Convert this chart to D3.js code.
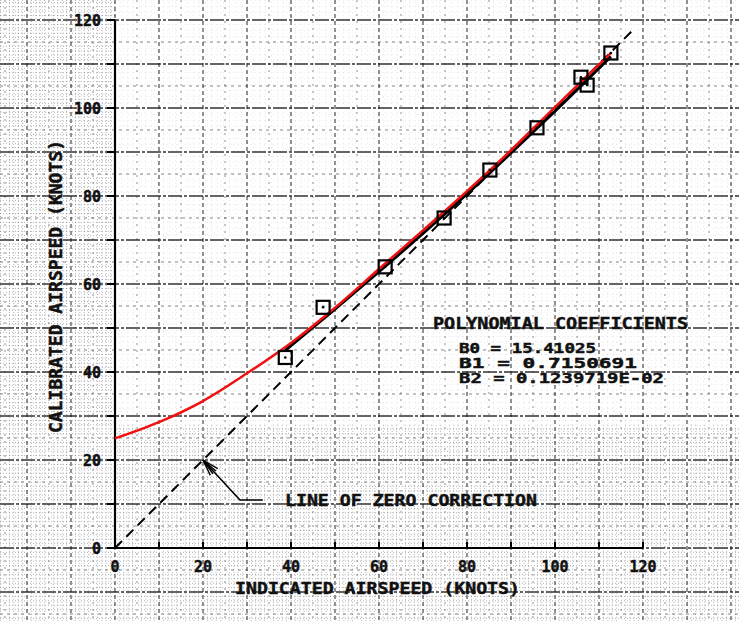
<!DOCTYPE html>
<html><head><meta charset="utf-8">
<script src="https://cdn.jsdelivr.net/npm/d3@7"></script>
<style>
html,body{margin:0;padding:0;background:#fff;}
svg{display:block;}
text{font-family:"DejaVu Sans Mono",monospace;font-weight:bold;fill:#111;stroke:#111;stroke-width:0.45;}
</style></head>
<body>
<script>
// ---- data ----
const xTicks = [0, 20, 40, 60, 80, 100, 120];
const yTicks = [0, 20, 40, 60, 80, 100, 120];
const indicated  = [38.7, 47.3, 61.4, 74.8, 85.2, 95.9, 105.9, 107.3, 112.7];
const calibrated = [43.3, 54.7, 63.9, 75.0, 85.9, 95.5, 107.0, 105.2, 112.5];
const fitX = [38.7, 50, 60, 70, 80, 90, 100, 112.7];
const fitY = [44.9, 54.3, 62.8, 71.5, 80.5, 89.8, 99.3, 111.7];
const redX = [0, 10, 20, 30, 40, 50, 60, 70, 80, 90, 100, 112.7];
const redY = [24.9, 28.6, 33.4, 39.7, 46.6, 54.6, 63.4, 72.2, 81.1, 90.4, 100.2, 112.5];
const zeroX = [0, 118];
const zeroY = [0, 118];
const coefLines = ["POLYNOMIAL COEFFICIENTS", "B0 = 15.41025", "B1 =  0.7150691", "B2 =  0.1239719E-02"];
const zeroLabel = "LINE OF ZERO CORRECTION";
const xTitle = "INDICATED AIRSPEED (KNOTS)";
const yTitle = "CALIBRATED AIRSPEED (KNOTS)";

const W = 739, H = 621;
const svg = d3.select("body").append("svg").attr("width", W).attr("height", H);
svg.append("rect").attr("width", W).attr("height", H).attr("fill", "#fff");

const x = d3.scaleLinear().domain([0, 120]).range([115, 643]);
const y = d3.scaleLinear().domain([0, 120]).range([548, 20]);

// ---- graph-paper grid ----
const g = svg.append("g");
const xMin = x.invert(0), xMax = x.invert(W), yMin = y.invert(H), yMax = y.invert(0);
const fineX = d3.range(Math.ceil(xMin), xMax, 1);
const fineY = d3.range(Math.ceil(yMin), yMax, 1);
function seg(vertical, v, a, b, st) {
  g.append("line")
    .attr("x1", vertical ? x(v) : a).attr("x2", vertical ? x(v) : b)
    .attr("y1", vertical ? a : y(v)).attr("y2", vertical ? b : y(v))
    .attr("stroke", st.c).attr("stroke-width", st.w)
    .attr("stroke-dasharray", st.d).attr("opacity", st.o);
}
const fineDense = {c: "#555", w: 1, d: "1,2", o: 0.45};
const fineLight = {c: "#777", w: 1, d: "1,5", o: 0.18};
const midH = {c: "#222", w: 1, d: "3,4", o: 0.55};
const midV = {c: "#222", w: 1, d: "2,5", o: 0.5};
const majH = {c: "#111", w: 1.6, d: "14,2,3,2", o: 0.85};
const majV = {c: "#111", w: 1.3, d: "4,3", o: 0.7};
const denseX = x(0), denseY = y(28);
fineX.filter(d => d % 5 !== 0).forEach(d => {
  seg(true, d, denseY, H, fineDense);
  if (x(d) < denseX) seg(true, d, 0, denseY, fineDense); else seg(true, d, 0, denseY, fineLight);
});
fineY.filter(d => d % 5 !== 0).forEach(d => {
  if (y(d) > denseY) seg(false, d, 0, W, fineDense);
  else { seg(false, d, 0, denseX, fineDense); seg(false, d, denseX, W, fineLight); }
});
fineX.filter(d => d % 5 === 0 && d % 10 !== 0).forEach(d => seg(true, d, 0, H, midV));
fineY.filter(d => d % 5 === 0 && d % 10 !== 0).forEach(d => seg(false, d, 0, W, midH));
fineX.filter(d => d % 10 === 0).forEach(d => seg(true, d, 0, H, majV));
fineY.filter(d => d % 10 === 0).forEach(d => seg(false, d, 0, W, majH));

// ---- axes ----
const ax = svg.append("g");
ax.append("line").attr("x1", x(0)).attr("x2", x(0)).attr("y1", y(0)).attr("y2", y(120))
  .attr("stroke", "#000").attr("stroke-width", 2.2);
ax.append("line").attr("x1", x(0) - 8).attr("x2", x(120)).attr("y1", y(0)).attr("y2", y(0))
  .attr("stroke", "#000").attr("stroke-width", 2.2);
const tenTicks = d3.range(0, 121, 10);
ax.selectAll(null).data(tenTicks).enter().append("line")
  .attr("x1", d => x(d)).attr("x2", d => x(d)).attr("y1", y(0)).attr("y2", y(0) - 6)
  .attr("stroke", "#000").attr("stroke-width", 2);
ax.selectAll(null).data(tenTicks).enter().append("line")
  .attr("x1", x(0)).attr("x2", x(0) - 8).attr("y1", d => y(d)).attr("y2", d => y(d))
  .attr("stroke", "#000").attr("stroke-width", 2);
ax.selectAll(null).data(xTicks).enter().append("text")
  .attr("x", d => x(d)).attr("y", y(0) + 24).attr("text-anchor", "middle")
  .attr("font-size", 15).text(d => d);
ax.selectAll(null).data(yTicks).enter().append("text")
  .attr("x", x(0) - 14).attr("y", d => y(d) + 5.5).attr("text-anchor", "end")
  .attr("font-size", 15).text(d => d);

svg.append("text").attr("x", 235).attr("y", 594).attr("font-size", 16)
  .attr("textLength", 285).attr("lengthAdjust", "spacingAndGlyphs").text(xTitle);
svg.append("text").attr("transform", "translate(62,433) rotate(-90)")
  .attr("font-size", 17).attr("textLength", 293).attr("lengthAdjust", "spacingAndGlyphs").text(yTitle);

// ---- lines ----
const line = d3.line().x(d => x(d[0])).y(d => y(d[1]));
const zeroPts = zeroX.map((v, i) => [v, zeroY[i]]);
svg.append("path").attr("d", line(zeroPts)).attr("fill", "none")
  .attr("stroke", "#000").attr("stroke-width", 2).attr("stroke-dasharray", "10,6");

const fitPts = fitX.map((v, i) => [v, fitY[i]]);
svg.append("path").attr("d", line.curve(d3.curveMonotoneX)(fitPts)).attr("fill", "none")
  .attr("stroke", "#000").attr("stroke-width", 3);

const redPts = redX.map((v, i) => [v, redY[i]]);
svg.append("path").attr("d", line.curve(d3.curveMonotoneX)(redPts)).attr("fill", "none")
  .attr("stroke", "#f01010").attr("stroke-width", 2.5);

// ---- data squares ----
const pts = indicated.map((v, i) => [v, calibrated[i]]);
const sq = svg.append("g");
sq.selectAll(null).data(pts).enter().append("rect")
  .attr("x", d => x(d[0]) - 6.5).attr("y", d => y(d[1]) - 6.5)
  .attr("width", 13).attr("height", 13)
  .attr("fill", "none").attr("stroke", "#000").attr("stroke-width", 2.2);
sq.selectAll(null).data(pts).enter().append("circle")
  .attr("cx", d => x(d[0])).attr("cy", d => y(d[1])).attr("r", 1.3).attr("fill", "#000");

// ---- annotation: line of zero correction ----
const tip = [20, 20], bend = [28.4, 10.9], end = [33.6, 10.9];
svg.append("path").attr("d", d3.line().x(d => x(d[0])).y(d => y(d[1]))([tip, bend, end]))
  .attr("fill", "none").attr("stroke", "#000").attr("stroke-width", 1.6);
const tx = x(tip[0]), ty = y(tip[1]);
const ang = Math.atan2(y(bend[1]) - ty, x(bend[0]) - tx);
[-0.3, -0.12, 0.12, 0.3].forEach(a => {
  svg.append("line").attr("x1", tx).attr("y1", ty)
    .attr("x2", tx + 17 * Math.cos(ang + a)).attr("y2", ty + 17 * Math.sin(ang + a))
    .attr("stroke", "#000").attr("stroke-width", 1.4);
});
svg.append("text").attr("x", 285).attr("y", 506).attr("font-size", 16)
  .attr("textLength", 252).attr("lengthAdjust", "spacingAndGlyphs").text(zeroLabel);

// ---- polynomial coefficients ----
const coefPos = [[433, 329, 255], [459, 353, 137], [459, 368, 178], [459, 383, 205]];
coefLines.forEach((t, i) => {
  svg.append("text").attr("x", coefPos[i][0]).attr("y", coefPos[i][1])
    .attr("font-size", i === 0 ? 16 : 14)
    .attr("textLength", coefPos[i][2]).attr("lengthAdjust", "spacingAndGlyphs").text(t);
});
</script>
</body></html>
